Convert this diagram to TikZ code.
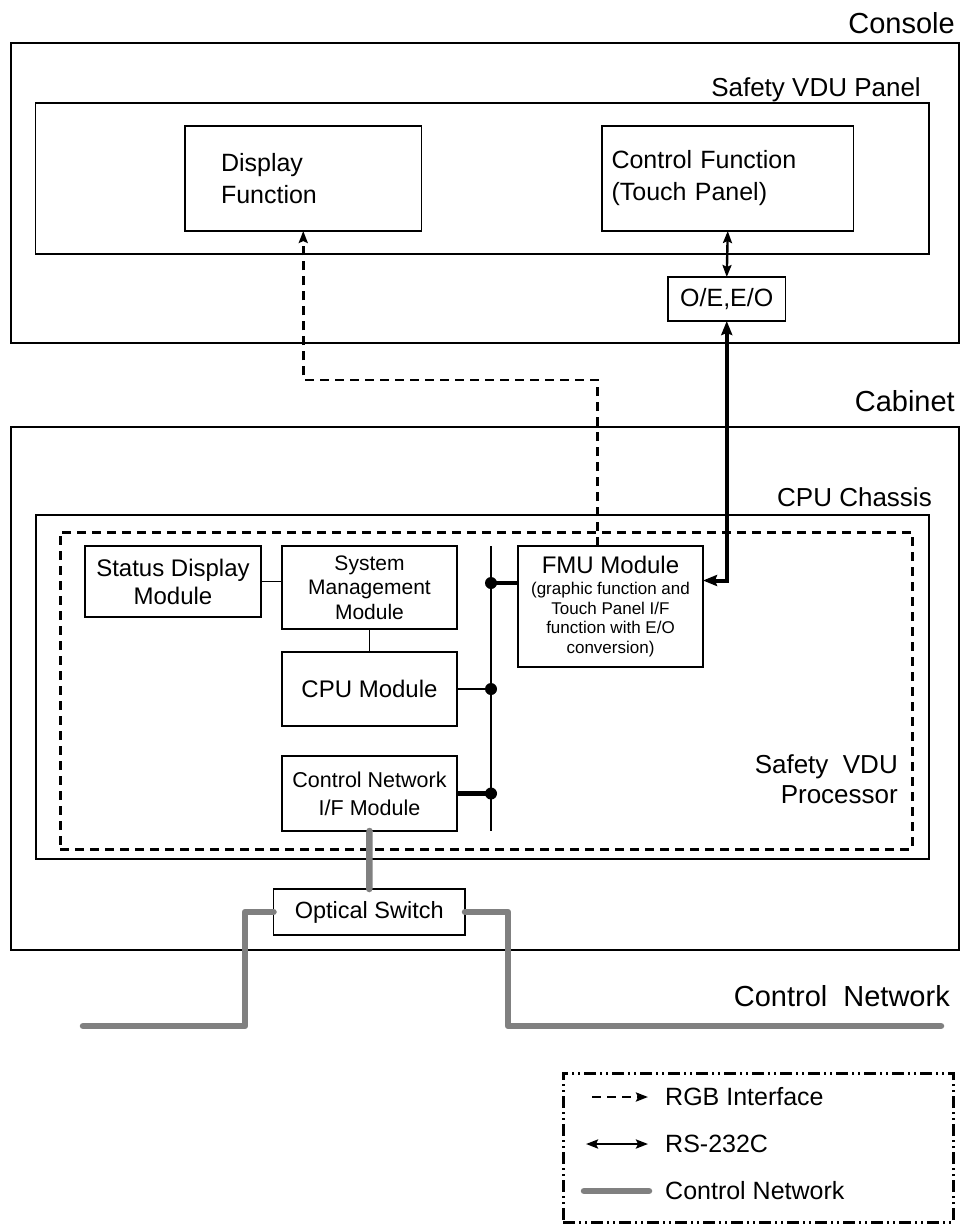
\documentclass[tikz,border=0pt]{standalone}
\usepackage{fontspec}
\setmainfont{Liberation Sans}
\usetikzlibrary{arrows.meta,calc}
\definecolor{netgray}{HTML}{808080}
\begin{document}
\begin{tikzpicture}[x=1pt,y=-1pt,
  box/.style={draw,line width=1.8pt,fill=white,inner sep=0pt,outer sep=0pt,align=center},
  frame/.style={draw,line width=1.8pt,inner sep=0pt,outer sep=0pt},
  lbl/.style={inner sep=0pt,anchor=base east},
  thinline/.style={line width=1.5pt},
  rgb/.style={line width=2.6pt,dash pattern=on 9pt off 6pt,-{Stealth[length=12pt,width=9pt,inset=2pt]}},
  rs/.style={line width=4pt,{Stealth[length=14pt,width=11pt,inset=2pt]}-{Stealth[length=14pt,width=11pt,inset=2pt]}},
  rsthin/.style={line width=2.4pt,{Stealth[length=12pt,width=9pt,inset=2pt]}-{Stealth[length=12pt,width=9pt,inset=2pt]}},
  net/.style={line width=6.5pt,color=netgray,line cap=round,line join=round},
  busline/.style={line width=2.2pt},
  dot/.style={circle,fill,inner sep=0pt,minimum size=12pt},
  f29/.style={font=\fontsize{29}{34}\selectfont},
  f26/.style={font=\fontsize{26}{30}\selectfont},
  f25/.style={font=\fontsize{25}{32}\selectfont},
  f24/.style={font=\fontsize{24}{28}\selectfont},
  f21/.style={font=\fontsize{21}{24.5}\selectfont},
]
\useasboundingbox (0,0) rectangle (961,1224);

% ---------- Console ----------
\node[frame,minimum width=948pt,minimum height=300pt] (console) at (485,193) {};
\node[lbl,f29] (consolelbl) at (955,33) {Console};
\node[frame,minimum width=893.5pt,minimum height=151pt] (panel) at (482.25,178.5) {};
\node[lbl,f26] (panellbl) at (921,96) {Safety VDU Panel};
\node[box,f25,minimum width=236.5pt,minimum height=105pt,text width=164.5pt,inner xsep=36pt,align=left] (disp) at (303.25,178.5) {Display\\Function};
\node[box,f25,minimum width=251.5pt,minimum height=105pt,text width=232.5pt,inner xsep=9.5pt,align=left] (ctrl) at (727.75,178.5) {Control Function\\(Touch Panel)};
\node[box,f25,minimum width=117.5pt,minimum height=44pt] (oe) at (726.75,299) {O/E,E/O};

% ---------- Cabinet ----------
\node[frame,minimum width=948pt,minimum height=523pt] (cabinet) at (485,688.5) {};
\node[lbl,f29] (cabinetlbl) at (955,411) {Cabinet};
\node[frame,minimum width=893pt,minimum height=344pt] (chassis) at (482.5,687) {};
\node[lbl,f26] (chassislbl) at (932,506) {CPU Chassis};
\node[draw,line width=3pt,dash pattern=on 9pt off 6pt,inner sep=0pt,minimum width=852pt,minimum height=317pt] (proc) at (486,690.5) {};
\node[f26,inner sep=0pt,align=right,anchor=base east] (proclbl) at (898,803) {Safety\ \ VDU\\Processor};

\node[box,f24,minimum width=176pt,minimum height=71pt] (status) at (173,581.5) {Status Display\\Module};
\node[box,f21,minimum width=175pt,minimum height=83pt] (sysm) at (369.5,587.5) {System\\Management\\Module};
\node[box,f24,minimum width=175pt,minimum height=74pt] (cpu) at (369.5,689) {CPU Module};
\node[box,font=\fontsize{21.5}{28}\selectfont,minimum width=175pt,minimum height=75pt] (cnif) at (369.5,793.5) {Control Network\\I/F Module};
\node[box,font=\fontsize{17}{19.5}\selectfont,minimum width=185pt,minimum height=121pt] (fmu) at (610.5,606.5) {{\fontsize{24}{24}\selectfont FMU Module}\\[2pt](graphic function and\\Touch Panel I/F\\function with E/O\\conversion)};

\coordinate (bustop) at (491,546);
\coordinate (busbot) at (491,831);
\draw[busline] (bustop) -- (busbot);

\draw[thinline] (status.east) -- (status.east -| sysm.west);
\draw[thinline] (sysm.south) -- (cpu.north);
\draw[line width=2.8pt] (cpu.east) -- (cpu.east -| bustop) node[dot] (dcpu) {};
\draw[line width=4.8pt] ([yshift=23.5pt]fmu.west) -- ([yshift=23.5pt]fmu.west -| bustop) node[dot] (dfmu) {};
\draw[line width=4.8pt] (cnif.east) -- (cnif.east -| bustop) node[dot] (dcnif) {};

% ---------- Interfaces ----------
\draw[rgb] ([xshift=-13pt]fmu.north) |- ($(disp.south)+(0,149)$) -- (disp.south);
\draw[rsthin] (ctrl.south) -- (oe.north);
\draw[rs] (oe.south) |- ([yshift=26pt]fmu.east);

% ---------- Control network ----------
\node[box,font=\fontsize{23.5}{28}\selectfont,minimum width=191.5pt,minimum height=46pt] (optsw) at (369.25,912) {Optical Switch};
\coordinate (lcorner) at (245,1026);
\coordinate (rcorner) at (508,1026);
\coordinate (netL) at (83,1026);
\coordinate (netR) at (941,1026);
\draw[net] (cnif.south) -- (optsw.north);
\draw[net] (optsw.west) -| (lcorner) -- (netL);
\draw[net] (optsw.east) -| (rcorner) -- (netR);
\node[lbl,f29] (netlbl) at (950,1006) {Control\ \ Network};

% ---------- Legend ----------
\node[draw,line width=3pt,dash pattern=on 12pt off 4pt on 2pt off 4pt on 2pt off 4pt,inner sep=0pt,minimum width=390pt,minimum height=149pt] (legend) at (758,1147.5) {};
\coordinate (la1) at (592,1097); \coordinate (la2) at (648,1097);
\coordinate (lb1) at (586,1144); \coordinate (lb2) at (648,1144);
\coordinate (lc1) at (584,1191); \coordinate (lc2) at (649,1191);
\draw[rgb] (la1) -- (la2);
\draw[rsthin] (lb1) -- (lb2);
\draw[net] (lc1) -- (lc2);
\node[inner sep=0pt,anchor=base west,f25] (lrgb) at (665,1105) {RGB Interface};
\node[inner sep=0pt,anchor=base west,f25] (lrs) at (665,1152) {RS-232C};
\node[inner sep=0pt,anchor=base west,f25] (lnet) at (665,1199) {Control Network};
\end{tikzpicture}
\end{document}
